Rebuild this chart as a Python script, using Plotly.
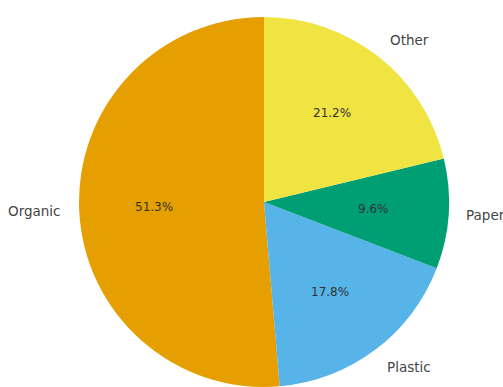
import math
import plotly.graph_objects as go

categories = ["Organic", "Plastic", "Paper", "Other"]
shares = [51.3, 17.8, 9.6, 21.2]
colors = ["#E69F00", "#56B4E9", "#009E73", "#F0E442"]

W, H = 503, 387
cx, cy, r = 264, 202, 185  # pixel geometry of the pie

total = sum(shares)
# plotly's counterclockwise mode places the first slice clockwise of the start angle;
# rotate so the first slice starts at 12 o'clock and runs counterclockwise (matplotlib style)
rot = -shares[0] / total * 360.0

fig = go.Figure(go.Pie(
    labels=categories, values=shares, sort=False,
    direction="counterclockwise", rotation=rot,
    marker=dict(colors=colors, line=dict(width=0)),
    textinfo="none", hoverinfo="label+percent", showlegend=False,
    domain=dict(x=[(cx - r) / W, (cx + r) / W], y=[(H - cy - r) / H, (H - cy + r) / H]),
))

start = 90.0
annotations = []
for cat, v in zip(categories, shares):
    span = v / total * 360.0
    mid = math.radians(start + span / 2)
    start += span
    c, s = math.cos(mid), math.sin(mid)
    # outside label
    lx, ly = cx + 1.085 * r * c, cy - 1.115 * r * s
    annotations.append(dict(
        x=lx / W, y=1 - ly / H, xref="paper", yref="paper", text=cat,
        showarrow=False, xanchor="left" if c >= 0 else "right", yanchor="middle",
        font=dict(family="DejaVu Sans", size=13.5, color="#444444"),
    ))
    # percentage
    px, py = cx + 0.595 * r * c, cy - 0.61 * r * s
    annotations.append(dict(
        x=px / W, y=1 - py / H, xref="paper", yref="paper", text=f"{v:.1f}%",
        showarrow=False, xanchor="center", yanchor="middle",
        font=dict(family="DejaVu Sans", size=12, color="#333333"),
    ))

fig.update_layout(
    width=W, height=H, margin=dict(l=0, r=0, t=0, b=0),
    paper_bgcolor="white", plot_bgcolor="white",
    annotations=annotations,
)
fig.write_html("out.html")
